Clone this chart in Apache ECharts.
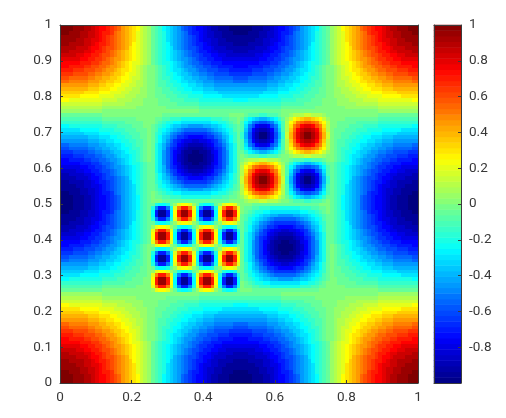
<!DOCTYPE html>
<html>
<head>
<meta charset="utf-8">
<title>heatmap</title>
<script src="https://cdn.jsdelivr.net/npm/echarts@6/dist/echarts.min.js"></script>
<style>
  html, body { margin: 0; padding: 0; background: #fff; }
  #chart { width: 506px; height: 418px; }
</style>
</head>
<body>
<div id="chart"></div>
<script>
// cell values, top row first, 96 x 96, spaced every 24 cells
// one letter per cell: A..T = 0.05..1, a..t = -0.05..-1, 0 = 0
var gridRows = [
'TTTSSSRRQPOONMLKIHGFECBA abcefghiklmnoopqrrsssttt tttsssrrqpoonmlkihgfecba ABCEFGHIKLMNOOPQRRSSSTTT',
'TTTSSSRRQPOONMLKIHGFECBA abcefghiklmnoopqrrsssttt tttsssrrqpoonmlkihgfecba ABCEFGHIKLMNOOPQRRSSSTTT',
'TTSSSRRQQPONNMKJIHGFDCBA abcdfghijkmnnopqqrrssstt ttsssrrqqponnmkjihgfdcba ABCDFGHIJKMNNOPQQRRSSSTT',
'SSSSSRRQQPONMLKJIHGFDCBA abcdfghijklmnopqqrrsssss sssssrrqqponmlkjihgfdcba ABCDFGHIJKLMNOPQQRRSSSSS',
'SSSSRRQQPPONMLKJIHGFDCBA abcdfghijklmnoppqqrrssss ssssrrqqpponmlkjihgfdcba ABCDFGHIJKLMNOPPQQRRSSSS',
'SSRRRRQQPONNMLKJIHGEDCBA abcdeghijklmnnopqqrrrrss ssrrrrqqponnmlkjihgedcba ABCDEGHIJKLMNNOPQQRRRRSS',
'RRRRQQQPOONMLLKJIHFEDCBA abcdefhijkllmnoopqqqrrrr rrrrqqqpoonmllkjihfedcba ABCDEFHIJKLLMNOOPQQQRRRR',
'RRQQQQPPONNMLKJIHGFEDCBA abcdefghijklmnnoppqqqqrr rrqqqqpponnmlkjihgfedcba ABCDEFGHIJKLMNNOPPQQQQRR',
'QQQQPPOONNMLLKJIHGFEDCBA abcdefghijkllmnnooppqqqq qqqqppoonnmllkjihgfedcba ABCDEFGHIJKLLMNNOOPPQQQQ',
'PPPPPOONNMMLKJIIHGFEDCBA abcdefghiijklmmnnooppppp pppppoonnmmlkjiihgfedcba ABCDEFGHIIJKLMMNNOOPPPPP',
'OOOOONNNMMLKKJIHGFEDDCBA abcddefghijkklmmnnnooooo ooooonnnmmlkkjihgfeddcba ABCDDEFGHIJKKLMMNNNOOOOO',
'OONNNNMMLLKKJIIHGFEDCBA0 0abcdefghiijkkllmmnnnnoo oonnnnmmllkkjiihgfedcba0 0ABCDEFGHIIJKKLLMMNNNNOO',
'NNNMMMLLLKKJIIHGFFEDCBA0 0abcdeffghiijkklllmmmnnn nnnmmmlllkkjiihgffedcba0 0ABCDEFFGHIIJKKLLLMMMNNN',
'MMMLLLLKKJJIIHGGFEDDCBA0 0abcddefgghiijjkkllllmmm mmmllllkkjjiihggfeddcba0 0ABCDDEFGGHIIJJKKLLLLMMM',
'LLKKKKKJJIIHHGGFEEDCCBA0 0abccdeefgghhiijjkkkkkll llkkkkkjjiihhggfeedccba0 0ABCCDEEFGGHHIIJJKKKKKLL',
'KKJJJJJIIIHHGGFFEDDCBBA0 0abbcddeffgghhiiijjjjjkk kkjjjjjiiihhggffeddcbba0 0ABBCDDEFFGGHHIIIJJJJJKK',
'IIIIIIIHHHGGFFEEDDCCBBA0 0abbccddeeffgghhhiiiiiii iiiiiiihhhggffeeddccbba0 0ABBCCDDEEFFGGHHHIIIIIII',
'HHHHHHHGGGFFFEEDDCCBBAA0 0aabbccddeefffggghhhhhhh hhhhhhhgggfffeeddccbbaa0 0AABBCCDDEEFFFGGGHHHHHHH',
'GGGGGGFFFFEEEDDDCCBBBAA0 0aabbbccdddeeeffffgggggg ggggggffffeeedddccbbbaa0 0AABBBCCDDDEEEFFFFGGGGGG',
'FFFFFEEEEEDDDDCCCBBBAAA0 0aaabbbcccddddeeeeefffff fffffeeeeeddddcccbbbaaa0 0AAABBBCCCDDDDEEEEEFFFFF',
'EEDDDDDDDDDCCCCBBBBAAA00 00aaabbbbccccdddddddddee eedddddddddccccbbbbaaa00 00AAABBBBCCCCDDDDDDDDDEE',
'CCCCCCCCCCCBBBBBBAAAAA00 00aaaaabbbbbbccccccccccc cccccccccccbbbbbbaaaaa00 00AAAAABBBBBBCCCCCCCCCCC',
'BBBBBBBBBBBAAAAAAAAA0000 0000aaaaaaaaabbbbbbbbbbb bbbbbbbbbbbaaaaaaaaa0000 0000AAAAAAAAABBBBBBBBBBB',
'AAAAAAAAAAA0000000000000 0000000000000aaaaaaaaaaa aaaaaaaaaaa0000000000000 0000000000000AAAAAAAAAAA',
'aaaaaaaaaaa0000000000000 000aaaaaaaaaaaaaaaaaa000 0abbbccbbba00ABBBCCBBBA0 0000000000000aaaaaaaaaaa',
'bbbbbbbbbbbaaaaaaaaa0000 0aabbcccddddddddcccbbaa0 acefghhgfecaACEFGHHGFECA 0000aaaaaaaaabbbbbbbbbbb',
'cccccccccccbbbbbbaaaaa00 0abcddeeffffffffeeddcba0 begjkllkjgebBEGJKLLKJGEB 00aaaaabbbbbbccccccccccc',
'eedddddddddccccbbbbaaa00 abcdefgghhiiiihhggfedcba bfjloppoljfbBFJLOPPOLJFB 00aaabbbbccccdddddddddee',
'fffffeeeeeddddcccbbbaaa0 abdefghijkkkkkkjihgfedba bgkoqrrqokgbBGKOQRRQOKGB 0aaabbbcccddddeeeeefffff',
'ggggggffffeeedddccbbbaa0 acdfgijklmmmmmmlkjigfdca chlprttrplhcCHLPRTTRPLHC 0aabbbccdddeeeffffgggggg',
'hhhhhhhgggfffeeddccbbaa0 aceghjkmmnoooonmmkjhgeca chlprttrplhcCHLPRTTRPLHC 0aabbccddeefffggghhhhhhh',
'iiiiiiihhhggffeeddccbba0 acegikmnoppqqpponmkigeca bgkoqrrqokgbBGKOQRRQOKGB 0abbccddeeffgghhhiiiiiii',
'kkjjjjjiiihhggffeddcbba0 adfhjlmopqrrrrqpomljhfda bfjloppoljfbBFJLOPPOLJFB 0abbcddeffgghhiiijjjjjkk',
'llkkkkkjjiihhggfeedccba0 adfhkmnpqrssssrqpnmkhfda begjkllkjgebBEGJKLLKJGEB 0abccdeefgghhiijjkkkkkll',
'mmmllllkkjjiihggfeddcba0 adfikmoprssttssrpomkifda acefghhgfecaACEFGHHGFECA 0abcddefgghiijjkkllllmmm',
'nnnmmmlllkkjiihgffedcba0 adfikmoqrsttttsrqomkifda 0abbbccbbba00ABBBCCBBBA0 0abcdeffghiijkklllmmmnnn',
'oonnnnmmllkkjiihgfedcba0 adfikmoqrsttttsrqomkifda 0ABBBCCBBBA00abbbccbbba0 0abcdefghiijkkllmmnnnnoo',
'ooooonnnmmlkkjihgfeddcba adfikmoprssttssrpomkifda ACEFGHHGFECAacefghhgfeca abcddefghijkklmmnnnooooo',
'pppppoonnmmlkjiihgfedcba adfhkmnpqrssssrqpnmkhfda BEGJKLLKJGEBbegjkllkjgeb abcdefghiijklmmnnooppppp',
'qqqqppoonnmllkjihgfedcba adfhjlmopqrrrrqpomljhfda BFJLOPPOLJFBbfjloppoljfb abcdefghijkllmnnooppqqqq',
'rrqqqqpponnmlkjihgfedcba acegikmnoppqqpponmkigeca BGKOQRRQOKGBbgkoqrrqokgb abcdefghijklmnnoppqqqqrr',
'rrrrqqqpoonmllkjihfedcba aceghjkmmnoooonmmkjhgeca CHLPRTTRPLHCchlprttrplhc abcdefhijkllmnoopqqqrrrr',
'ssrrrrqqponnmlkjihgedcba acdfgijklmmmmmmlkjigfdca CHLPRTTRPLHCchlprttrplhc abcdeghijklmnnopqqrrrrss',
'ssssrrqqpponmlkjihgfdcba abdefghijkkkkkkjihgfedba BGKOQRRQOKGBbgkoqrrqokgb abcdfghijklmnoppqqrrssss',
'sssssrrqqponmlkjihgfdcba abcdefgghhiiiihhggfedcba BFJLOPPOLJFBbfjloppoljfb abcdfghijklmnopqqrrsssss',
'ttsssrrqqponnmkjihgfdcba 0abcddeeffffffffeeddcba0 BEGJKLLKJGEBbegjkllkjgeb abcdfghijkmnnopqqrrssstt',
'tttsssrrqpoonmlkihgfecba 0aabbcccddddddddcccbbaa0 ACEFGHHGFECAacefghhgfeca abcefghiklmnoopqrrsssttt',
'tttsssrrqpoonmlkihgfecba 000aaaaaaaaaaaaaaaaaa000 0ABBBCCBBBA00abbbccbbba0 abcefghiklmnoopqrrsssttt',
'tttsssrrqpoonmlkihgfecba adeedaADEEDAadeedaADEEDA 000aaaaaaaaaaaaaaaaaa000 abcefghiklmnoopqrrsssttt',
'tttsssrrqpoonmlkihgfecba djnnjdDJNNJDdjnnjdDJNNJD 0aabbcccddddddddcccbbaa0 abcefghiklmnoopqrrsssttt',
'ttsssrrqqponnmkjihgfdcba enssneENSSNEenssneENSSNE 0abcddeeffffffffeeddcba0 abcdfghijkmnnopqqrrssstt',
'sssssrrqqponmlkjihgfdcba enssneENSSNEenssneENSSNE abcdefgghhiiiihhggfedcba abcdfghijklmnopqqrrsssss',
'ssssrrqqpponmlkjihgfdcba djnnjdDJNNJDdjnnjdDJNNJD abdefghijkkkkkkjihgfedba abcdfghijklmnoppqqrrssss',
'ssrrrrqqponnmlkjihgedcba adeedaADEEDAadeedaADEEDA acdfgijklmmmmmmlkjigfdca abcdeghijklmnnopqqrrrrss',
'rrrrqqqpoonmllkjihfedcba ADEEDAadeedaADEEDAadeeda aceghjkmmnoooonmmkjhgeca abcdefhijkllmnoopqqqrrrr',
'rrqqqqpponnmlkjihgfedcba DJNNJDdjnnjdDJNNJDdjnnjd acegikmnoppqqpponmkigeca abcdefghijklmnnoppqqqqrr',
'qqqqppoonnmllkjihgfedcba ENSSNEenssneENSSNEenssne adfhjlmopqrrrrqpomljhfda abcdefghijkllmnnooppqqqq',
'pppppoonnmmlkjiihgfedcba ENSSNEenssneENSSNEenssne adfhkmnpqrssssrqpnmkhfda abcdefghiijklmmnnooppppp',
'ooooonnnmmlkkjihgfeddcba DJNNJDdjnnjdDJNNJDdjnnjd adfikmoprssttssrpomkifda abcddefghijkklmmnnnooooo',
'oonnnnmmllkkjiihgfedcba0 ADEEDAadeedaADEEDAadeeda adfikmoqrsttttsrqomkifda 0abcdefghiijkkllmmnnnnoo',
'nnnmmmlllkkjiihgffedcba0 adeedaADEEDAadeedaADEEDA adfikmoqrsttttsrqomkifda 0abcdeffghiijkklllmmmnnn',
'mmmllllkkjjiihggfeddcba0 djnnjdDJNNJDdjnnjdDJNNJD adfikmoprssttssrpomkifda 0abcddefgghiijjkkllllmmm',
'llkkkkkjjiihhggfeedccba0 enssneENSSNEenssneENSSNE adfhkmnpqrssssrqpnmkhfda 0abccdeefgghhiijjkkkkkll',
'kkjjjjjiiihhggffeddcbba0 enssneENSSNEenssneENSSNE adfhjlmopqrrrrqpomljhfda 0abbcddeffgghhiiijjjjjkk',
'iiiiiiihhhggffeeddccbba0 djnnjdDJNNJDdjnnjdDJNNJD acegikmnoppqqpponmkigeca 0abbccddeeffgghhhiiiiiii',
'hhhhhhhgggfffeeddccbbaa0 adeedaADEEDAadeedaADEEDA aceghjkmmnoooonmmkjhgeca 0aabbccddeefffggghhhhhhh',
'ggggggffffeeedddccbbbaa0 ADEEDAadeedaADEEDAadeeda acdfgijklmmmmmmlkjigfdca 0aabbbccdddeeeffffgggggg',
'fffffeeeeeddddcccbbbaaa0 DJNNJDdjnnjdDJNNJDdjnnjd abdefghijkkkkkkjihgfedba 0aaabbbcccddddeeeeefffff',
'eedddddddddccccbbbbaaa00 ENSSNEenssneENSSNEenssne abcdefgghhiiiihhggfedcba 00aaabbbbccccdddddddddee',
'cccccccccccbbbbbbaaaaa00 ENSSNEenssneENSSNEenssne 0abcddeeffffffffeeddcba0 00aaaaabbbbbbccccccccccc',
'bbbbbbbbbbbaaaaaaaaa0000 DJNNJDdjnnjdDJNNJDdjnnjd 0aabbcccddddddddcccbbaa0 0000aaaaaaaaabbbbbbbbbbb',
'aaaaaaaaaaa0000000000000 ADEEDAadeedaADEEDAadeeda 000aaaaaaaaaaaaaaaaaa000 0000000000000aaaaaaaaaaa',
'AAAAAAAAAAA0000000000000 0000000000000aaaaaaaaaaa aaaaaaaaaaa0000000000000 0000000000000AAAAAAAAAAA',
'BBBBBBBBBBBAAAAAAAAA0000 0000aaaaaaaaabbbbbbbbbbb bbbbbbbbbbbaaaaaaaaa0000 0000AAAAAAAAABBBBBBBBBBB',
'CCCCCCCCCCCBBBBBBAAAAA00 00aaaaabbbbbbccccccccccc cccccccccccbbbbbbaaaaa00 00AAAAABBBBBBCCCCCCCCCCC',
'EEDDDDDDDDDCCCCBBBBAAA00 00aaabbbbccccdddddddddee eedddddddddccccbbbbaaa00 00AAABBBBCCCCDDDDDDDDDEE',
'FFFFFEEEEEDDDDCCCBBBAAA0 0aaabbbcccddddeeeeefffff fffffeeeeeddddcccbbbaaa0 0AAABBBCCCDDDDEEEEEFFFFF',
'GGGGGGFFFFEEEDDDCCBBBAA0 0aabbbccdddeeeffffgggggg ggggggffffeeedddccbbbaa0 0AABBBCCDDDEEEFFFFGGGGGG',
'HHHHHHHGGGFFFEEDDCCBBAA0 0aabbccddeefffggghhhhhhh hhhhhhhgggfffeeddccbbaa0 0AABBCCDDEEFFFGGGHHHHHHH',
'IIIIIIIHHHGGFFEEDDCCBBA0 0abbccddeeffgghhhiiiiiii iiiiiiihhhggffeeddccbba0 0ABBCCDDEEFFGGHHHIIIIIII',
'KKJJJJJIIIHHGGFFEDDCBBA0 0abbcddeffgghhiiijjjjjkk kkjjjjjiiihhggffeddcbba0 0ABBCDDEFFGGHHIIIJJJJJKK',
'LLKKKKKJJIIHHGGFEEDCCBA0 0abccdeefgghhiijjkkkkkll llkkkkkjjiihhggfeedccba0 0ABCCDEEFGGHHIIJJKKKKKLL',
'MMMLLLLKKJJIIHGGFEDDCBA0 0abcddefgghiijjkkllllmmm mmmllllkkjjiihggfeddcba0 0ABCDDEFGGHIIJJKKLLLLMMM',
'NNNMMMLLLKKJIIHGFFEDCBA0 0abcdeffghiijkklllmmmnnn nnnmmmlllkkjiihgffedcba0 0ABCDEFFGHIIJKKLLLMMMNNN',
'OONNNNMMLLKKJIIHGFEDCBA0 0abcdefghiijkkllmmnnnnoo oonnnnmmllkkjiihgfedcba0 0ABCDEFGHIIJKKLLMMNNNNOO',
'OOOOONNNMMLKKJIHGFEDDCBA abcddefghijkklmmnnnooooo ooooonnnmmlkkjihgfeddcba ABCDDEFGHIJKKLMMNNNOOOOO',
'PPPPPOONNMMLKJIIHGFEDCBA abcdefghiijklmmnnooppppp pppppoonnmmlkjiihgfedcba ABCDEFGHIIJKLMMNNOOPPPPP',
'QQQQPPOONNMLLKJIHGFEDCBA abcdefghijkllmnnooppqqqq qqqqppoonnmllkjihgfedcba ABCDEFGHIJKLLMNNOOPPQQQQ',
'RRQQQQPPONNMLKJIHGFEDCBA abcdefghijklmnnoppqqqqrr rrqqqqpponnmlkjihgfedcba ABCDEFGHIJKLMNNOPPQQQQRR',
'RRRRQQQPOONMLLKJIHFEDCBA abcdefhijkllmnoopqqqrrrr rrrrqqqpoonmllkjihfedcba ABCDEFHIJKLLMNOOPQQQRRRR',
'SSRRRRQQPONNMLKJIHGEDCBA abcdeghijklmnnopqqrrrrss ssrrrrqqponnmlkjihgedcba ABCDEGHIJKLMNNOPQQRRRRSS',
'SSSSRRQQPPONMLKJIHGFDCBA abcdfghijklmnoppqqrrssss ssssrrqqpponmlkjihgfdcba ABCDFGHIJKLMNOPPQQRRSSSS',
'SSSSSRRQQPONMLKJIHGFDCBA abcdfghijklmnopqqrrsssss sssssrrqqponmlkjihgfdcba ABCDFGHIJKLMNOPQQRRSSSSS',
'TTSSSRRQQPONNMKJIHGFDCBA abcdfghijkmnnopqqrrssstt ttsssrrqqponnmkjihgfdcba ABCDFGHIJKMNNOPQQRRSSSTT',
'TTTSSSRRQPOONMLKIHGFECBA abcefghiklmnoopqrrsssttt tttsssrrqpoonmlkihgfecba ABCEFGHIKLMNOOPQRRSSSTTT',
'TTTSSSRRQPOONMLKIHGFECBA abcefghiklmnoopqrrsssttt tttsssrrqpoonmlkihgfecba ABCEFGHIKLMNOOPQRRSSSTTT'
];
var colorbarLevels = [
  -0.98, -0.95, -0.92, -0.89, -0.86, -0.83, -0.80, -0.77, -0.73, -0.70, -0.67, -0.64, -0.61, -0.58, -0.55, -0.52,
  -0.48, -0.45, -0.42, -0.39, -0.36, -0.33, -0.30, -0.27, -0.23, -0.20, -0.17, -0.14, -0.11, -0.08, -0.05, -0.02,
  0.02, 0.05, 0.08, 0.11, 0.14, 0.17, 0.20, 0.23, 0.27, 0.30, 0.33, 0.36, 0.39, 0.42, 0.45, 0.48,
  0.52, 0.55, 0.58, 0.61, 0.64, 0.67, 0.70, 0.73, 0.77, 0.80, 0.83, 0.86, 0.89, 0.92, 0.95, 0.98
];
var jetColors = ['#00007f', '#0000ff', '#007fff', '#00ffff', '#7fff7f', '#ffff00', '#ff7f00', '#ff0000', '#7f0000'];

var CELLS = 96;
var cellSize = 1 / CELLS;
var cellShift = 0.004; // the cells sit a little up and right of the ticks in the reference
var lineColor = '#3c3c3c';
var textStyle = { color: '#383838', fontSize: 13.5, fontFamily: 'Roboto, sans-serif' };

function cellValue(ch) {
  if (ch === '0') return 0;
  var code = ch.charCodeAt(0);
  return code < 97 ? (code - 64) * 0.05 : -(code - 96) * 0.05;
}

var cellData = [];
gridRows.forEach(function (row, r) {
  var chars = row.replace(/ /g, '');
  for (var c = 0; c < chars.length; c++) {
    cellData.push([c * cellSize, (CELLS - 1 - r) * cellSize, cellValue(chars[c])]);
  }
});

var colorbarData = colorbarLevels.map(function (v, i) { return [0, i, v]; });

function renderCell(params, api) {
  var x0 = api.value(0), y0 = api.value(1);
  var p0 = api.coord([x0 === 0 ? 0 : x0 + cellShift, y0 + cellSize + cellShift]);
  var p1 = api.coord([x0 + cellSize + cellShift, y0 === 0 ? 0 : y0 + cellShift]);
  var left = Math.round(p0[0]), top = Math.round(p0[1]);
  var rect = echarts.graphic.clipRectByRect(
    { x: left, y: top, width: Math.round(p1[0]) - left, height: Math.round(p1[1]) - top },
    { x: params.coordSys.x, y: params.coordSys.y, width: params.coordSys.width, height: params.coordSys.height }
  );
  return rect && { type: 'rect', shape: rect, style: { fill: api.visual('color') } };
}

// line only axis, used for the sides of the box
function boxAxis(position, gridIndex, data) {
  return {
    type: 'category', gridIndex: gridIndex, position: position, data: data, z: 5,
    axisLine: { show: true, onZero: false, lineStyle: { color: lineColor, width: 1 } },
    axisTick: { show: false }, axisLabel: { show: false }, splitLine: { show: false }
  };
}
function tickAxis(position, gridIndex, min, max, interval, formatter) {
  return {
    type: 'value', gridIndex: gridIndex, position: position, min: min, max: max, interval: interval, z: 5,
    axisLine: { show: true, onZero: false, lineStyle: { color: lineColor, width: 1 } },
    axisTick: { show: true, inside: true, length: 3, lineStyle: { color: lineColor } },
    axisLabel: Object.assign({ margin: 8, formatter: formatter }, textStyle),
    splitLine: { show: false }
  };
}

var chart = echarts.init(document.getElementById('chart'), null, { renderer: 'canvas' });
chart.setOption({
  animation: false,
  backgroundColor: '#fff',
  grid: [
    { left: 60, top: 25, width: 358, height: 358 },
    { left: 434, top: 25, width: 27, height: 358 }
  ],
  xAxis: [
    boxAxis('top', 0, ['c']),
    tickAxis('bottom', 0, 0, 1, 0.2),
    boxAxis('top', 1, ['c']),
    boxAxis('bottom', 1, ['c'])
  ],
  yAxis: [
    boxAxis('right', 0, ['c']),
    tickAxis('left', 0, 0, 1, 0.1),
    boxAxis('left', 1, colorbarLevels),
    tickAxis('right', 1, -1, 1, 0.2, function (v) {
      return v <= -1 ? '' : String(Math.round(v * 10) / 10);
    })
  ],
  visualMap: {
    show: false, type: 'continuous', min: -1, max: 1, dimension: 2, seriesIndex: [0, 1],
    inRange: { color: jetColors }
  },
  series: [
    {
      type: 'custom', xAxisIndex: 1, yAxisIndex: 1, data: cellData, renderItem: renderCell,
      encode: { x: 0, y: 1 }, progressive: 0, silent: true
    },
    { type: 'heatmap', xAxisIndex: 2, yAxisIndex: 2, data: colorbarData, progressive: 0, emphasis: { disabled: true } }
  ]
});
</script>
</body>
</html>
